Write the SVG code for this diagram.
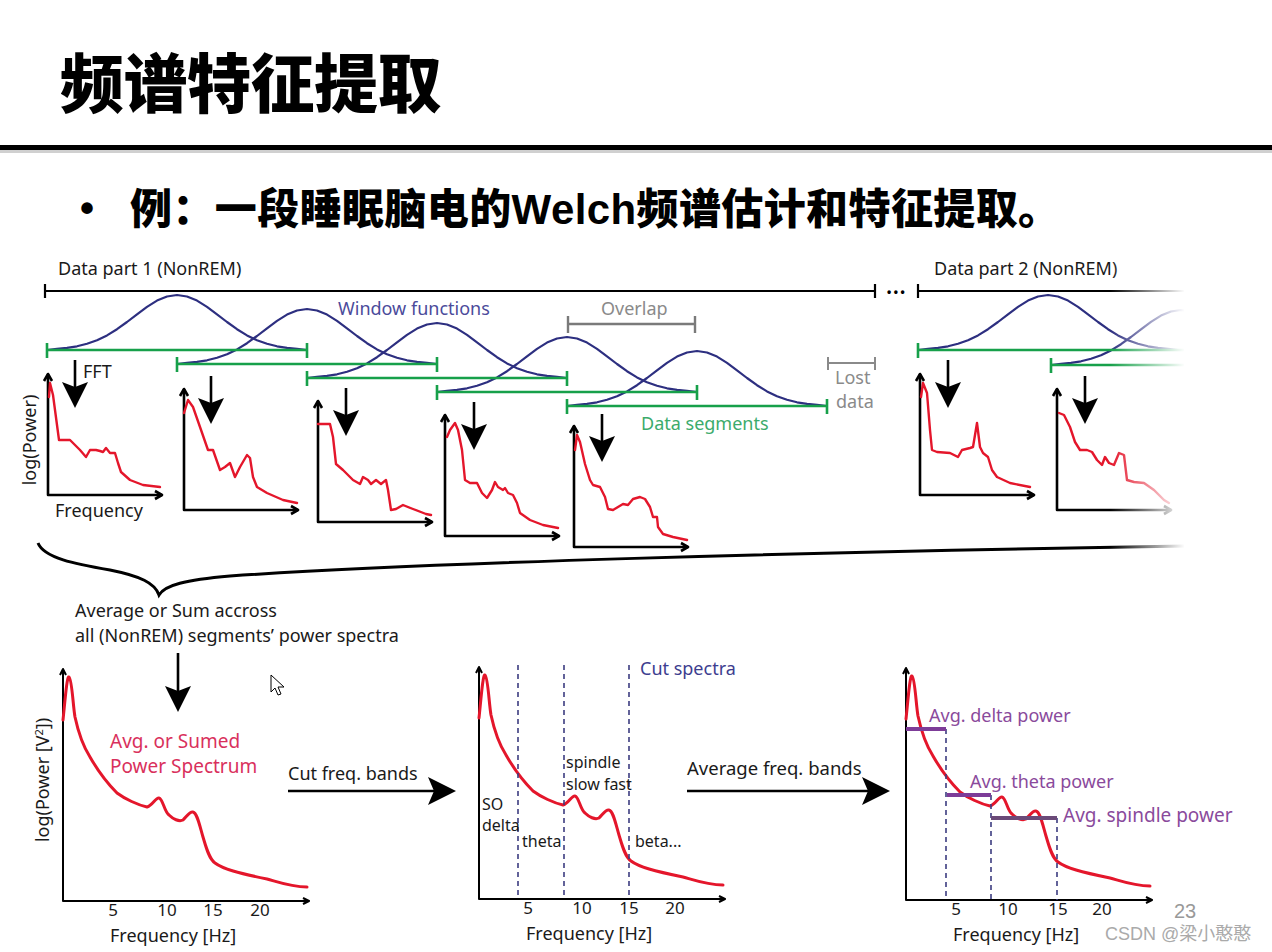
<svg xmlns="http://www.w3.org/2000/svg" xmlns:xlink="http://www.w3.org/1999/xlink" width="1272" height="952" viewBox="0 0 1272 952">
<style>
.t{font-family:"Noto Sans","Open Sans",sans-serif;font-size:18px;fill:#1a1a1a}
.tk{font-family:"Noto Sans","Open Sans",sans-serif;font-size:17px;fill:#1a1a1a;text-anchor:middle}
.win{fill:none;stroke:#2d2f80;stroke-width:2.2;stroke-linejoin:round}
.seg{fill:none;stroke:#17a04a;stroke-width:2.6}
.red{fill:none;stroke:#e4162b;stroke-width:2.4;stroke-linejoin:round;stroke-linecap:round}
.redb{fill:none;stroke:#e4162b;stroke-width:3;stroke-linejoin:round;stroke-linecap:round}
.ax{fill:none;stroke:#000;stroke-width:2.6;stroke-linejoin:round}
.axb{fill:none;stroke:#000;stroke-width:2;stroke-linejoin:round}
.dash{fill:none;stroke:#3c3c80;stroke-width:1.6;stroke-dasharray:5 4}
.bar{fill:none;stroke:#7d3c98;stroke-width:4}
</style>
<defs>
<path id="win" d="M0,0 L10,-1.1 L20,-2.1 L30,-3.7 L40,-6.2 L50,-9.7 L60,-14.6 L70,-20.8 L80,-28 L90,-35.7 L100,-43.1 L110,-49.4 L120,-53.5 L130,-55 L140,-53.5 L150,-49.4 L160,-43.1 L170,-35.7 L180,-28 L190,-20.8 L200,-14.6 L210,-9.7 L220,-6.2 L230,-3.7 L240,-2.1 L250,-1.1 L260,0"/>
<g id="axs">
<path class="ax" d="M0,-121 L0,0 L114,0"/>
<path class="ax" d="M-4,-114 L0,-121 L4,-114 M107,-4 L114,0 L107,4"/>
</g>
<g id="axl">
<path class="axb" d="M0,-232 L0,0 L246,0"/>
<path class="axb" d="M-3,-226 L0,-232 L3,-226 M240,-3 L246,0 L240,3"/>
</g>
<path id="bigc" d="M0,-181 C2,-200 4,-226 6,-224 C9,-222 10,-195 12,-184 C15,-170 20,-155 27,-144 C35,-130 42,-120 54,-108 C62,-102 75,-96 84,-94 C90,-96 93,-104 96,-103 C100,-102 101,-90 106,-86 C110,-82 116,-79 120,-81 C124,-85 127,-90 130,-89 C134,-88 136,-78 140,-64 C143,-54 146,-42 152,-38 C160,-32 175,-28 204,-22 C215,-19 228,-14 244,-14"/>
<g id="darr">
<path d="M0,0 L0,30" stroke="#000" stroke-width="2.6"/>
<path d="M-13,22 L0,48 L13,22 L0,27 Z" fill="#000"/>
</g>
<linearGradient id="fade" x1="0" y1="0" x2="1" y2="0">
<stop offset="0" stop-color="#fff" stop-opacity="0"/>
<stop offset="1" stop-color="#fff" stop-opacity="1"/>
</linearGradient>
</defs>
<rect width="1272" height="952" fill="#fff"/>

<g id="header">
<text x="60" y="107" font-family="Noto Sans CJK SC,sans-serif" font-weight="900" font-size="64" letter-spacing="-0.5" fill="#000">频谱特征提取</text>
<rect x="0" y="145" width="1272" height="5" fill="#000"/>
<rect x="0" y="150" width="1272" height="3" fill="#d0d0d0"/>
<text x="80" y="222" font-family="Liberation Sans,sans-serif" font-size="40" font-weight="bold" fill="#000">•</text>
<text x="130" y="224" font-family="Liberation Sans,Noto Sans CJK SC,sans-serif" font-weight="900" font-size="42" letter-spacing="0.4" fill="#000">例：一段睡眠脑电的Welch频谱估计和特征提取。</text>
</g>

<g id="timeline">
<text class="t" x="58" y="275">Data part 1 (NonREM)</text>
<path d="M45,291 L875,291 M45,284 L45,298 M875,284 L875,298" stroke="#000" stroke-width="2.2" fill="none"/>
<text x="887" y="296" font-family="Liberation Sans,sans-serif" font-size="12" font-weight="bold" letter-spacing="2.5" fill="#000">•••</text>
<text class="t" x="934" y="275">Data part 2 (NonREM)</text>
<path d="M918,291 L1185,291 M918,284 L918,298" stroke="#000" stroke-width="2.2" fill="none"/>
</g>

<g id="windows">
<use href="#win" x="47" y="350" class="win"/>
<use href="#win" x="177" y="364" class="win"/>
<use href="#win" x="307" y="378" class="win"/>
<use href="#win" x="437" y="392" class="win"/>
<use href="#win" x="567" y="406" class="win"/>
<use href="#win" x="918" y="350" class="win"/>
<use href="#win" x="1051" y="365" class="win"/>
<text class="t" x="338" y="315" style="fill:#4b4b9b">Window functions</text>
</g>

<g id="segments">
<path class="seg" d="M47,350 L307,350 M47,343 L47,358 M307,343 L307,358"/>
<path class="seg" d="M177,364 L437,364 M177,357 L177,372 M437,357 L437,372"/>
<path class="seg" d="M307,378 L567,378 M307,371 L307,386 M567,371 L567,386"/>
<path class="seg" d="M437,392 L697,392 M437,385 L437,400 M697,385 L697,400"/>
<path class="seg" d="M567,406 L827,406 M567,399 L567,414 M827,399 L827,414"/>
<path class="seg" d="M918,350 L1185,350 M918,343 L918,358"/>
<path class="seg" d="M1051,365 L1185,365 M1051,358 L1051,373"/>
<text class="t" x="641" y="430" style="fill:#3cab6c">Data segments</text>
</g>

<g id="overlap">
<path d="M568,324 L695,324 M568,316 L568,333 M695,316 L695,333" stroke="#7a7a7a" stroke-width="2.4" fill="none"/>
<text class="t" x="601" y="315" style="fill:#8a8a8a">Overlap</text>
</g>

<g id="lostdata">
<path d="M828,363 L875,363 M828,357 L828,370 M875,357 L875,370" stroke="#8a8a8a" stroke-width="2" fill="none"/>
<text class="t" x="835" y="384" style="fill:#8a8a8a">Lost</text>
<text class="t" x="836" y="408" style="fill:#8a8a8a">data</text>
</g>

<g id="fft-arrows">
<use href="#darr" x="75" y="360"/>
<use href="#darr" x="211" y="376"/>
<use href="#darr" x="346" y="388"/>
<use href="#darr" x="474" y="402"/>
<use href="#darr" x="602" y="414"/>
<use href="#darr" x="948" y="360"/>
<use href="#darr" x="1085" y="376"/>
<text class="t" x="83" y="378">FFT</text>
</g>

<g id="spectra">
<g transform="translate(48,495)"><use href="#axs"/><path class="red" d="M1,-98 L2,-112 L5,-100 L11,-55 L22,-55 L32,-45 L38,-38 L42,-45 L48,-45 L52,-44 L55,-43 L58,-47 L62,-42 L67,-42 L70,-32 L73,-23 L82,-15 L95,-10 L112,-8"/></g>
<g transform="translate(184,510)"><use href="#axs"/><path class="red" d="M0,-97 L4,-110 L9,-103 L16,-83 L24,-60 L29,-60 L36,-40 L41,-43 L46,-47 L51,-33 L56,-43 L63,-55 L66,-52 L69,-33 L73,-23 L83,-17 L99,-10 L113,-7"/></g>
<g transform="translate(318,522)"><use href="#axs"/><path class="red" d="M0,-98 L12,-98 L15,-85 L18,-58 L25,-52 L35,-42 L42,-38 L45,-45 L50,-42 L53,-38 L58,-42 L63,-38 L68,-42 L70,-32 L73,-12 L78,-13 L85,-17 L95,-13 L108,-8 L113,-7"/></g>
<g transform="translate(445,536)"><use href="#axs"/><path class="red" d="M2,-99 L5,-106 L10,-113 L13,-106 L17,-86 L20,-56 L25,-53 L32,-53 L37,-43 L42,-38 L47,-46 L50,-54 L53,-49 L58,-46 L60,-48 L63,-43 L68,-41 L72,-33 L75,-23 L85,-16 L98,-11 L113,-8"/></g>
<g transform="translate(574,547)"><use href="#axs"/><path class="red" d="M1,-97 L3,-112 L6,-105 L11,-83 L16,-67 L19,-62 L26,-60 L31,-50 L34,-38 L39,-37 L44,-40 L49,-43 L54,-42 L59,-48 L66,-50 L71,-48 L76,-40 L79,-30 L83,-30 L84,-20 L89,-13 L99,-10 L113,-7"/></g>
<g transform="translate(920,495)"><use href="#axs"/><path class="red" d="M1,-98 L3,-112 L7,-102 L10,-65 L12,-45 L17,-43 L30,-42 L38,-38 L42,-45 L50,-47 L53,-48 L57,-72 L60,-48 L63,-42 L68,-38 L72,-25 L77,-18 L90,-12 L110,-8"/></g>
<g transform="translate(1057,510)"><use href="#axs"/><path class="red" d="M2,-97 L7,-95 L13,-83 L18,-68 L23,-60 L30,-60 L35,-58 L40,-50 L45,-45 L48,-53 L52,-47 L57,-45 L62,-57 L67,-55 L70,-30 L77,-28 L87,-27 L97,-20 L107,-10 L112,-7"/></g>
<text class="t" transform="translate(36,440) rotate(-90)" text-anchor="middle">log(Power)</text>
<text class="t" x="55" y="517">Frequency</text>
</g>

<g id="brace">
<path d="M38,543 C44,558 75,564 110,570 C140,576 155,583 159,595 C165,585 185,580 230,576 C420,563 800,552 1185,546" fill="none" stroke="#000" stroke-width="3"/>
</g>

<rect id="fadeout" x="1110" y="255" width="75" height="305" fill="url(#fade)"/>
<rect x="1184" y="255" width="88" height="305" fill="#fff"/>

<g id="average">
<text class="t" x="75" y="617">Average or Sum accross</text>
<text class="t" x="75" y="642">all (NonREM) segments’ power spectra</text>
<path d="M178,653 L178,692" stroke="#000" stroke-width="2.6"/>
<path d="M165,686 L178,712 L191,686 L178,691 Z" fill="#000"/>
<path d="M271,675 L271,692 L275,688 L278,695 L281,694 L278,687 L284,687 Z" fill="#fff" stroke="#000" stroke-width="1"/>
</g>

<g id="plot-avg">
<g transform="translate(63,901)"><use href="#axl"/><use href="#bigc" class="redb"/></g>
<text class="t" style="fill:#d9305c;font-size:19px" x="110" y="748">Avg. or Sumed</text>
<text class="t" style="fill:#d9305c;font-size:19px" x="110" y="773">Power Spectrum</text>
<text class="t" transform="translate(49,780) rotate(-90)" text-anchor="middle">log(Power [V<tspan dy="-6" font-size="11">2</tspan><tspan dy="6">])</tspan></text>
<text class="tk" x="113" y="916">5</text>
<text class="tk" x="167" y="916">10</text>
<text class="tk" x="213" y="916">15</text>
<text class="tk" x="260" y="916">20</text>
<text class="t" x="110" y="942">Frequency [Hz]</text>
</g>

<g id="arrow-cut">
<text class="t" x="288" y="780">Cut freq. bands</text>
<path d="M288,791 L440,791" stroke="#000" stroke-width="2.6"/>
<path d="M428,777 L456,791 L428,805 L434,791 Z" fill="#000"/>
</g>

<g id="plot-cut">
<g transform="translate(479,899)"><use href="#axl"/><use href="#bigc" class="redb"/></g>
<path class="dash" d="M518,665 L518,899 M564,665 L564,899 M629,665 L629,899"/>
<text class="t" x="640" y="675" style="fill:#3d3d8f">Cut spectra</text>
<text class="t" x="566" y="768" style="font-size:16px">spindle</text>
<text class="t" x="566" y="790" style="font-size:16px">slow fast</text>
<text class="t" x="482" y="810" style="font-size:16px">SO</text>
<text class="t" x="482" y="831" style="font-size:16px">delta</text>
<text class="t" x="522" y="847" style="font-size:16px">theta</text>
<text class="t" x="635" y="847" style="font-size:16px">beta...</text>
<text class="tk" x="528" y="914">5</text>
<text class="tk" x="582" y="914">10</text>
<text class="tk" x="629" y="914">15</text>
<text class="tk" x="675" y="914">20</text>
<text class="t" x="526" y="940">Frequency [Hz]</text>
</g>

<g id="arrow-avg">
<text class="t" x="687" y="775" style="font-size:18.5px">Average freq. bands</text>
<path d="M687,791 L875,791" stroke="#000" stroke-width="2.6"/>
<path d="M862,777 L890,791 L862,805 L868,791 Z" fill="#000"/>
</g>

<g id="plot-bands">
<g transform="translate(906,900)"><use href="#axl"/><use href="#bigc" class="redb"/></g>
<path class="dash" d="M946,729 L946,900 M991,795 L991,900 M1057,818 L1057,900"/>
<path class="bar" d="M906,729 L946,729 M947,795 L991,795"/>
<path class="bar" style="stroke:#6b4a78" d="M991,818 L1057,818"/>
<text class="t" style="fill:#8a4a9c" x="929" y="722">Avg. delta power</text>
<text class="t" style="fill:#8a4a9c" x="970" y="788">Avg. theta power</text>
<text class="t" style="fill:#8a4a9c;font-size:19px" x="1063" y="822">Avg. spindle power</text>
<text class="tk" x="956" y="915">5</text>
<text class="tk" x="1008" y="915">10</text>
<text class="tk" x="1058" y="915">15</text>
<text class="tk" x="1102" y="915">20</text>
<text class="t" x="953" y="941">Frequency [Hz]</text>
</g>

<g id="footer">
<text x="1174" y="918" font-family="Liberation Sans,sans-serif" font-size="20" fill="#999">23</text>
<text x="1105" y="940" font-family="Liberation Sans,Noto Sans CJK SC,sans-serif" font-size="18" fill="#aaa">CSDN @梁小憨憨</text>
</g>
</svg>
